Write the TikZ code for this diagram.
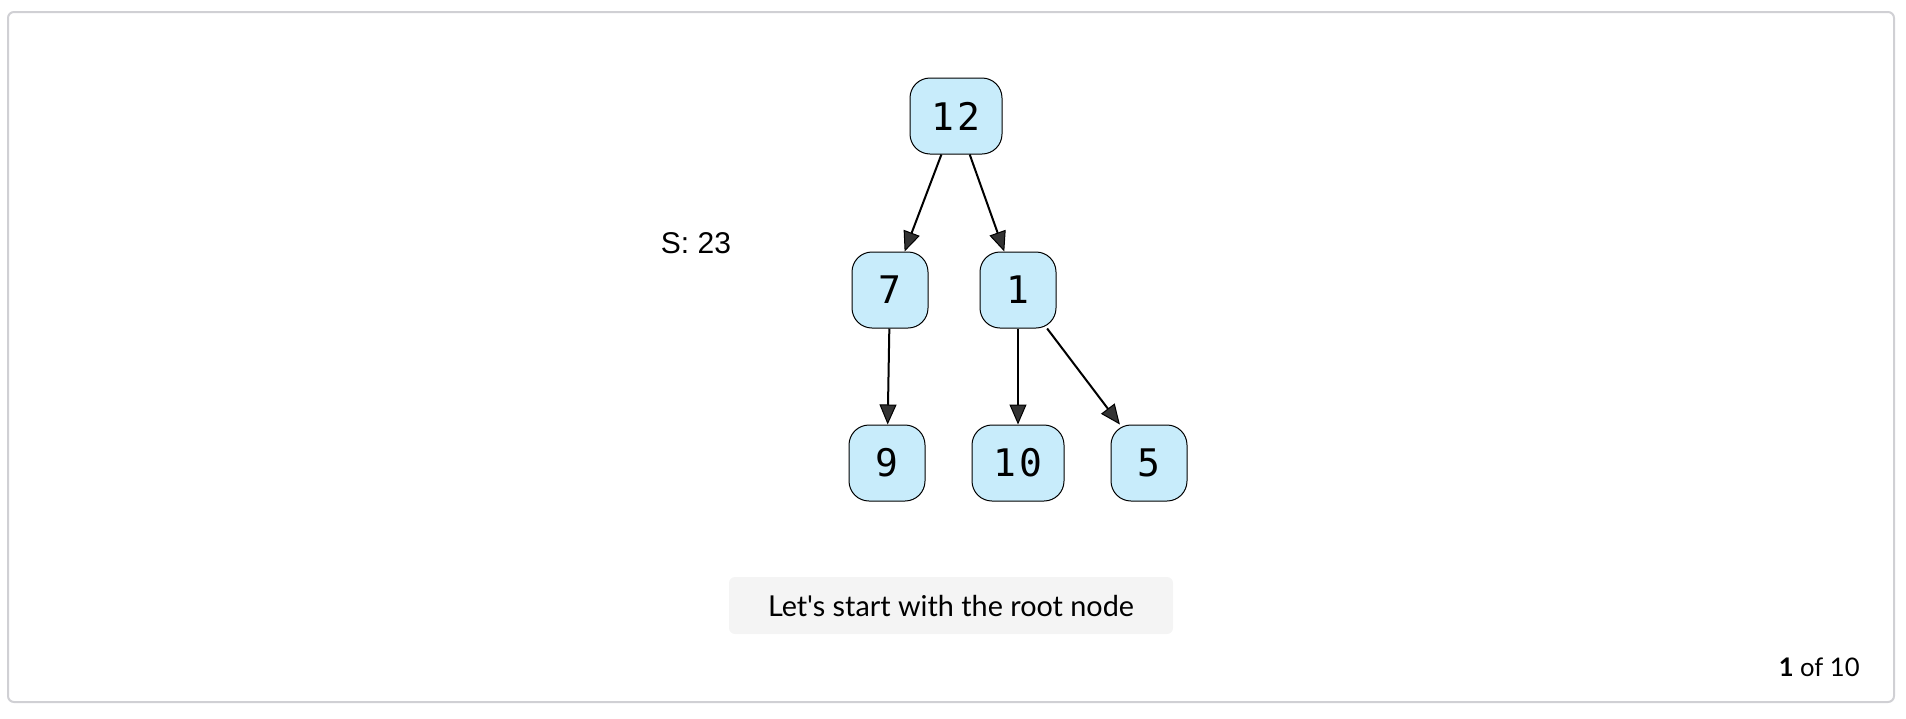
\documentclass[tikz,border=0pt]{standalone}
\usepackage{fontspec}
\setmainfont{Lato}[Ligatures=TeXOff]
\newfontfamily\monofont{DejaVu Sans Mono}
\newfontfamily\labelfont{Liberation Sans}
\usetikzlibrary{arrows.meta}
\definecolor{nodeblue}{HTML}{C8ECFB}
\definecolor{framegray}{HTML}{D0D0D4}
\definecolor{boxgray}{HTML}{F4F4F4}
\definecolor{tipgray}{HTML}{333333}
\tikzset{
  vnode/.style={draw, fill=nodeblue, rounded corners=10pt, line width=0.5pt,
    minimum width=38pt, minimum height=38pt, inner sep=0pt,
    font=\monofont\fontsize{19}{20}\selectfont},
  widenode/.style={vnode, minimum width=46pt},
  edge/.style={line width=1pt,
    -{Triangle[length=10pt,width=8.5pt,line width=0.5pt,fill=tipgray]}}
}
\begin{document}
\begin{tikzpicture}[x=0.5pt,y=-0.5pt]
  \useasboundingbox (0,0) rectangle (1906,718);
  \draw[framegray, line width=1pt, rounded corners=3pt] (8,12) rectangle (1894,702);

  \node[widenode] (n12) at (956,116) {1\kern1.5pt2};
  \node[vnode] (n7) at (890,290) {7};
  \node[vnode] (n1) at (1018,290) {1};
  \node[vnode] (n9) at (887,463) {9};
  \node[widenode] (n10) at (1018,463) {1\kern1.5pt0};
  \node[vnode] (n5) at (1149,463) {5};

  \draw[edge] (n12) -- (n7);
  \draw[edge] (n12) -- (n1);
  \draw[edge] (n7) -- (n9);
  \draw[edge] (n1) -- (n10);
  \draw[edge] (n1) -- (n5);

  \node[font=\labelfont\fontsize{15}{16}\selectfont] (sum) at (696,243) {S: 23};

  \node[fill=boxgray, rounded corners=3pt, minimum width=222pt, minimum height=28.5pt,
    font=\fontsize{14.4}{16}\selectfont] (caption) at (951,605.5) {Let's start with the root node};
  \node[anchor=east, inner sep=0pt, font=\fontsize{12.8}{14}\selectfont] (step) at (1860,667) {\textbf{1} of 10};
\end{tikzpicture}
\end{document}
